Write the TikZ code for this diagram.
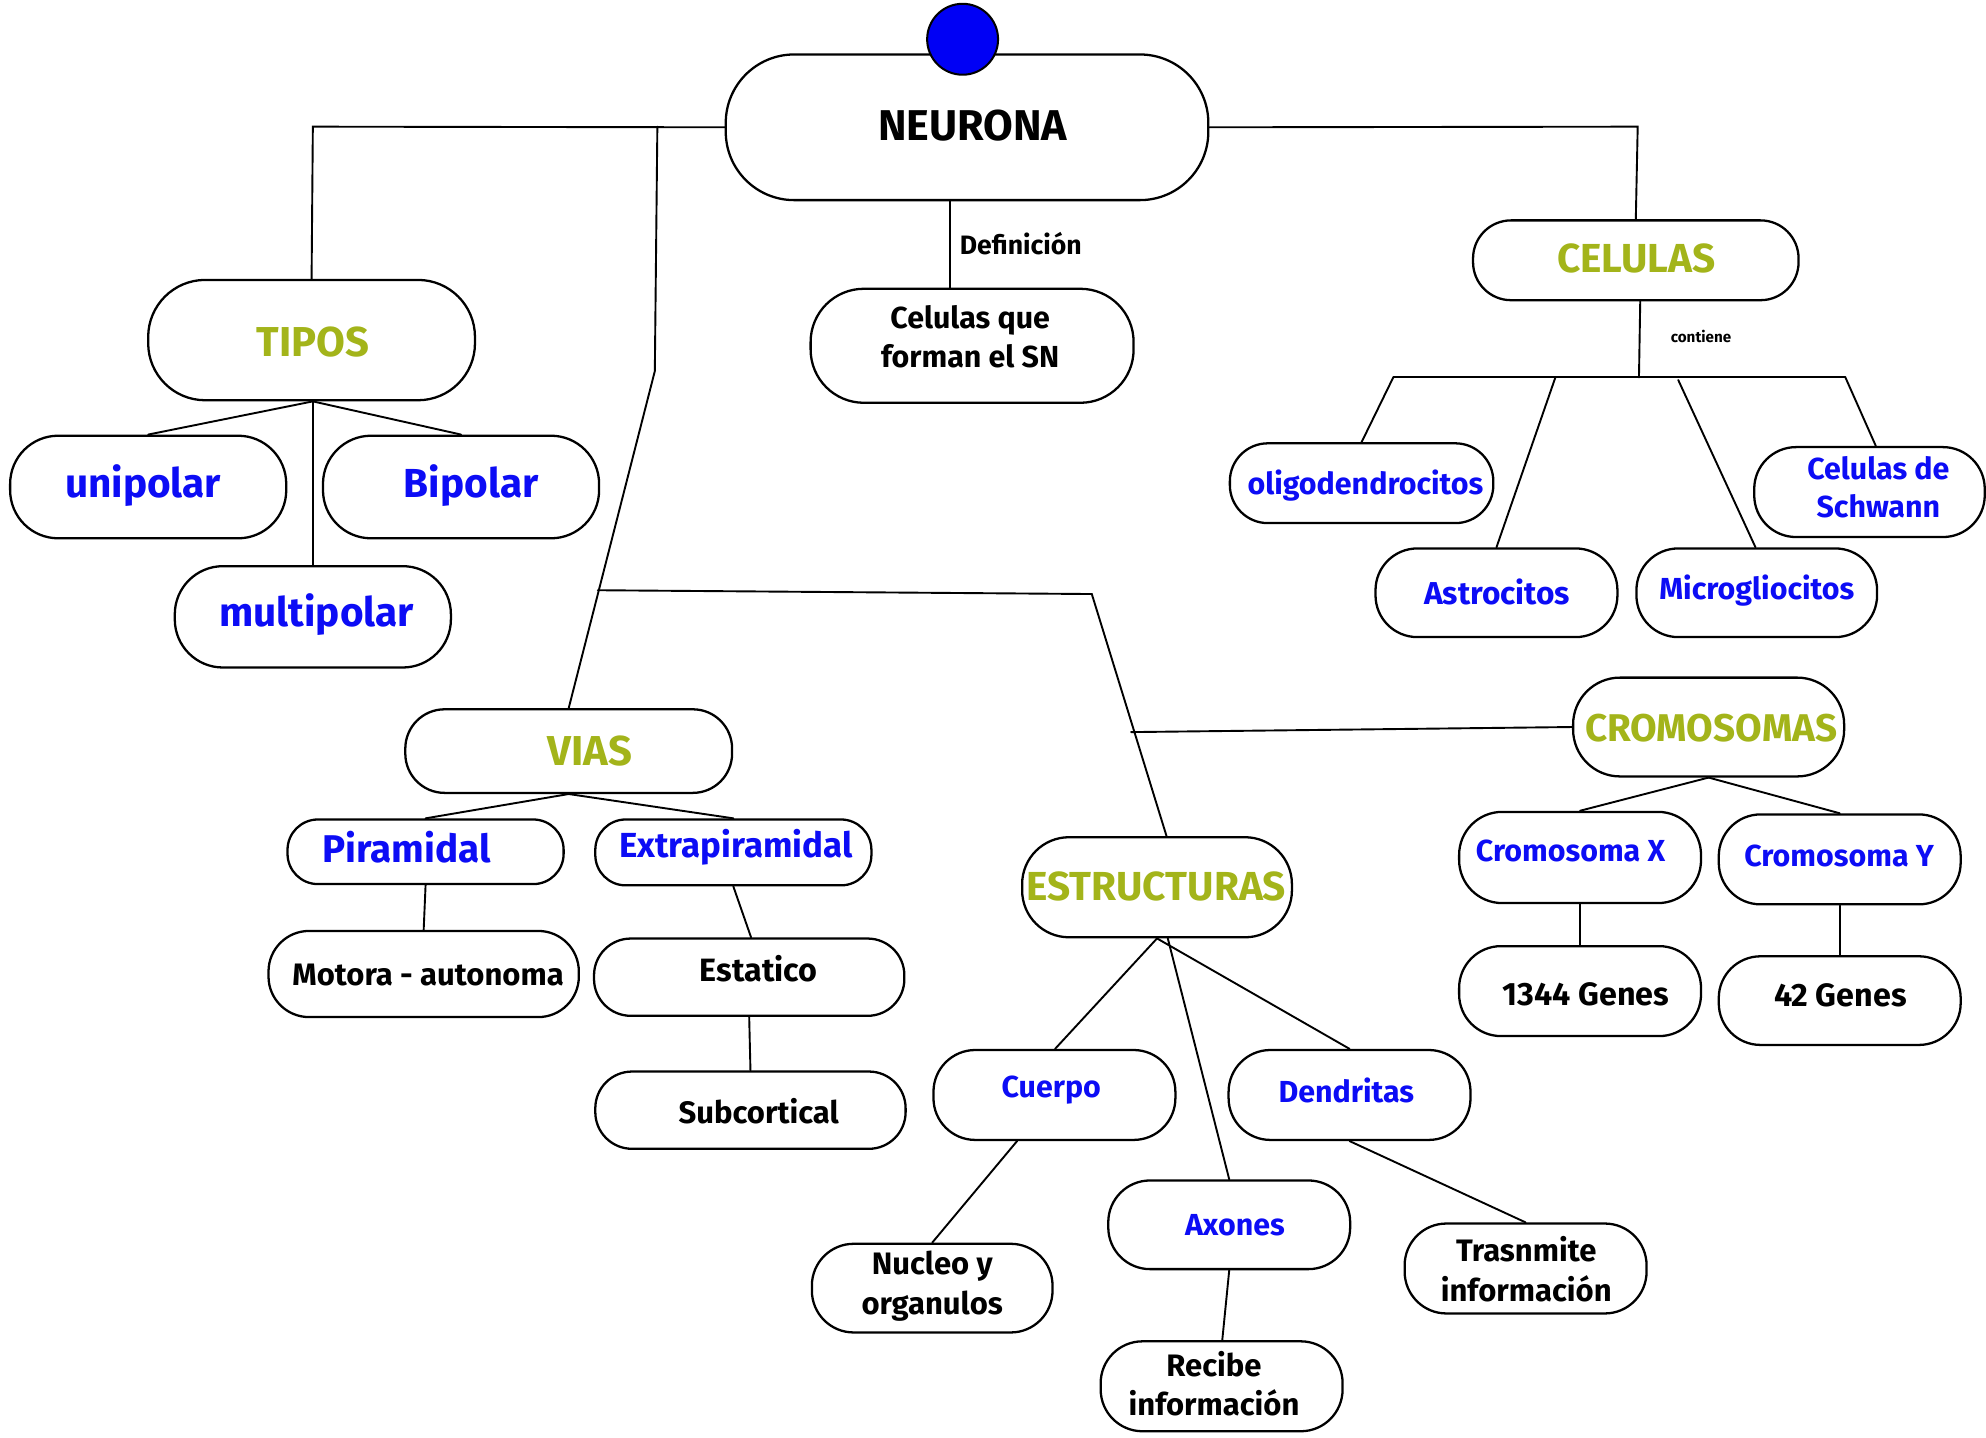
\documentclass[tikz,border=0pt]{standalone}
\usepackage{fontspec}
\setmainfont{Fira Sans}
\definecolor{olive}{RGB}{163,180,26}
\definecolor{myblue}{RGB}{12,12,245}
\definecolor{dotblue}{RGB}{0,0,245}
\tikzset{
  box/.style={draw, line width=1.8pt, inner sep=0pt, rounded corners=#1pt},
  box/.default=32,
  conn/.style={line width=1.5pt, line cap=round},
  ttl/.style={text=olive, inner sep=0pt, font=\fontsize{33}{38}\selectfont\bfseries},
  big/.style={text=myblue, inner sep=0pt, font=\fontsize{32}{38}\selectfont\bfseries},
  sub/.style={text=myblue, inner sep=0pt, align=center, font=\fontsize{24}{30}\selectfont\bfseries},
  blk/.style={text=black, inner sep=0pt, align=center, font=\fontsize{24.5}{31}\selectfont\bfseries},
  lbl/.style={text=black, inner sep=0pt, font=\fontsize{21}{24}\selectfont\bfseries}
}
\begin{document}
\begin{tikzpicture}[x=1pt,y=-1pt]
\useasboundingbox[fill=white] (0,0) rectangle (1568,1135);

% ---------- boxes ----------
\node[box=54, minimum width=381pt, minimum height=115pt] (neurona) at (763.5,100.5) {};
\node[draw, line width=1.6pt, fill=dotblue, circle, minimum size=56pt, inner sep=0pt] (dot) at (760,31) {};
\node[box=42, minimum width=255pt, minimum height=90pt] (celque) at (767.5,273) {};
\node[box=30, minimum width=257pt, minimum height=63pt] (celulas) at (1291.5,205.5) {};
\node[box=30, minimum width=208pt, minimum height=63pt] (oligo) at (1075,381.5) {};
\node[box=33, minimum width=191pt, minimum height=70pt] (astro) at (1181.5,468) {};
\node[box=33, minimum width=190pt, minimum height=70pt] (micro) at (1387,468) {};
\node[box=33, minimum width=182pt, minimum height=71pt] (schwann) at (1476,388.5) {};
\node[box=45, minimum width=258pt, minimum height=95pt] (tipos) at (246,268.5) {};
\node[box=38, minimum width=218pt, minimum height=81pt] (unipolar) at (117,384.5) {};
\node[box=38, minimum width=218pt, minimum height=81pt] (bipolar) at (364,384.5) {};
\node[box=38, minimum width=218pt, minimum height=80pt] (multipolar) at (247,487) {};
\node[box=31, minimum width=258pt, minimum height=66pt] (vias) at (449,593) {};
\node[box=24, minimum width=218pt, minimum height=51pt] (piramidal) at (336,672.5) {};
\node[box=24, minimum width=218pt, minimum height=52pt] (extra) at (579,673) {};
\node[box=32, minimum width=245pt, minimum height=68pt] (motora) at (334.5,769) {};
\node[box=29, minimum width=245pt, minimum height=61pt] (estatico) at (591.5,771.5) {};
\node[box=29, minimum width=245pt, minimum height=61pt] (subcort) at (592.5,876.5) {};
\node[box=37, minimum width=213pt, minimum height=79pt] (estruct) at (913.5,700.5) {};
\node[box=33, minimum width=191pt, minimum height=71pt] (cuerpo) at (832.5,864.5) {};
\node[box=33, minimum width=191pt, minimum height=71pt] (dendritas) at (1065.5,864.5) {};
\node[box=33, minimum width=191pt, minimum height=70pt] (axones) at (970.5,967) {};
\node[box=33, minimum width=190pt, minimum height=70pt] (nucleo) at (736,1017) {};
\node[box=33, minimum width=191pt, minimum height=71pt] (recibe) at (964.5,1094.5) {};
\node[box=33, minimum width=191pt, minimum height=71pt] (trasn) at (1204.5,1001.5) {};
\node[box=37, minimum width=214pt, minimum height=78pt] (cromos) at (1349,574) {};
\node[box=34, minimum width=191pt, minimum height=72pt] (cromx) at (1247.5,677) {};
\node[box=33, minimum width=191pt, minimum height=71pt] (cromy) at (1452.5,678.5) {};
\node[box=33, minimum width=191pt, minimum height=71pt] (g1344) at (1247.5,782.5) {};
\node[box=33, minimum width=191pt, minimum height=70pt] (g42) at (1452.5,790) {};

% ---------- texts ----------
\node[text=black, inner sep=0pt, font=\fontsize{34}{38}\selectfont\bfseries] (tneurona) at (768,99) {NEURONA};
\node[blk, font=\fontsize{24}{31}\selectfont\bfseries] (tcelque) at (766,266) {Celulas que\\forman el SN};
\node[lbl] (tdef) at (806,192) {Definición};
\node[ttl, font=\fontsize{32}{36}\selectfont\bfseries] (tcelulas) at (1292,204) {CELULAS};
\node[text=black, inner sep=0pt, font=\fontsize{12}{14}\selectfont\bfseries] (tcont) at (1343,266) {contiene};
\node[sub] (toligo) at (1078,383) {oligodendrocitos};
\node[sub, font=\fontsize{25}{30}\selectfont\bfseries] (tastro) at (1182,467) {Astrocitos};
\node[sub] (tmicro) at (1387,466) {Microgliocitos};
\node[sub] (tschw) at (1483,385) {Celulas de\\Schwann};
\node[ttl] (ttipos) at (247,270) {TIPOS};
\node[big] (tuni) at (113,383) {unipolar};
\node[big] (tbi) at (372,383) {Bipolar};
\node[big] (tmulti) at (250,485) {multipolar};
\node[ttl] (tvias) at (466,593) {VIAS};
\node[big, font=\fontsize{30.5}{34}\selectfont\bfseries] (tpira) at (321,669) {Piramidal};
\node[sub, font=\fontsize{27.5}{31}\selectfont\bfseries] (textra) at (581,669) {Extrapiramidal};
\node[blk] (tmotora) at (338,770) {Motora - autonoma};
\node[blk, font=\fontsize{25.5}{31}\selectfont\bfseries] (testat) at (599,765) {Estatico};
\node[blk] (tsubc) at (599,877) {Subcortical};
\node[ttl, font=\fontsize{32}{36}\selectfont\bfseries] (testr) at (913,700) {ESTRUCTURAS};
\node[sub] (tcuerpo) at (830,861) {Cuerpo};
\node[sub] (tdend) at (1063,861) {Dendritas};
\node[sub] (taxon) at (975,967) {Axones};
\node[blk] (tnucleo) at (736,1015.5) {Nucleo y\\organulos};
\node[blk] (trecibe) at (958.5,1092.5) {Recibe\\información};
\node[blk] (ttrasn) at (1205,1002) {Trasnmite\\información};
\node[ttl, font=\fontsize{30.5}{34}\selectfont\bfseries] (tcromos) at (1351,575) {CROMOSOMAS};
\node[sub] (tcromx) at (1240,672) {Cromosoma X};
\node[sub] (tcromy) at (1452,676) {Cromosoma Y};
\node[blk, font=\fontsize{25.5}{31}\selectfont\bfseries] (tg1344) at (1252,785) {1344 Genes};
\node[blk, font=\fontsize{25.5}{31}\selectfont\bfseries] (tg42) at (1453,786) {42 Genes};

% ---------- junction coordinates ----------
\coordinate (jL) at (247,100);
\coordinate (jV) at (519,100);
\coordinate (jV2) at (517,293);
\coordinate (jH1) at (472,466);
\coordinate (jH2) at (862,469);
\coordinate (jC) at (893,578);
\coordinate (jR) at (1293,100);
\coordinate (jK) at (1294,298);
\coordinate (jKL) at (1100,298);
\coordinate (jKR) at (1457,298);
\coordinate (jKA) at (1228,298);
\coordinate (jKM) at (1325,300);

% ---------- connectors ----------
\draw[conn] (neurona.west) -- (jL) -- (tipos.north);
\draw[conn] (jV) -- (jV2) -- (vias.north);
\draw[conn] (jH1) -- (jH2) -- ([xshift=7.5pt]estruct.north);
\draw[conn] (jC) -- (cromos.west);
\draw[conn] (neurona.east) -- (jR) -- (celulas.north);
\draw[conn] ([xshift=-13.5pt]neurona.south) -- ([xshift=-17.5pt]celque.north);
\draw[conn] ([xshift=3.5pt]celulas.south) -- (jK);
\draw[conn] (jKL) -- (jKR);
\draw[conn] (jKL) -- (oligo.north);
\draw[conn] (jKA) -- (astro.north);
\draw[conn] (jKM) -- ([xshift=-1pt]micro.north);
\draw[conn] (jKR) -- ([xshift=5pt]schwann.north);
\draw[conn] ([xshift=1pt]tipos.south) -- (unipolar.north);
\draw[conn] ([xshift=1pt]tipos.south) -- (bipolar.north);
\draw[conn] ([xshift=1pt]tipos.south) -- (multipolar.north);
\draw[conn] (vias.south) -- (piramidal.north);
\draw[conn] (vias.south) -- (extra.north);
\draw[conn] (piramidal.south) -- (motora.north);
\draw[conn] (extra.south) -- ([xshift=1.5pt]estatico.north);
\draw[conn] (estatico.south) -- (subcort.north);
\draw[conn] (estruct.south) -- ([xshift=0.5pt]cuerpo.north);
\draw[conn] (estruct.south) -- (dendritas.north);
\draw[conn] ([xshift=8.5pt]estruct.south) -- (axones.north);
\draw[conn] ([xshift=-29.5pt]cuerpo.south) -- (nucleo.north);
\draw[conn] (axones.south) -- ([xshift=0.5pt]recibe.north);
\draw[conn] (dendritas.south) -- (trasn.north);
\draw[conn] (cromos.south) -- (cromx.north);
\draw[conn] (cromos.south) -- (cromy.north);
\draw[conn] (cromx.south) -- (g1344.north);
\draw[conn] (cromy.south) -- (g42.north);
\end{tikzpicture}
\end{document}
